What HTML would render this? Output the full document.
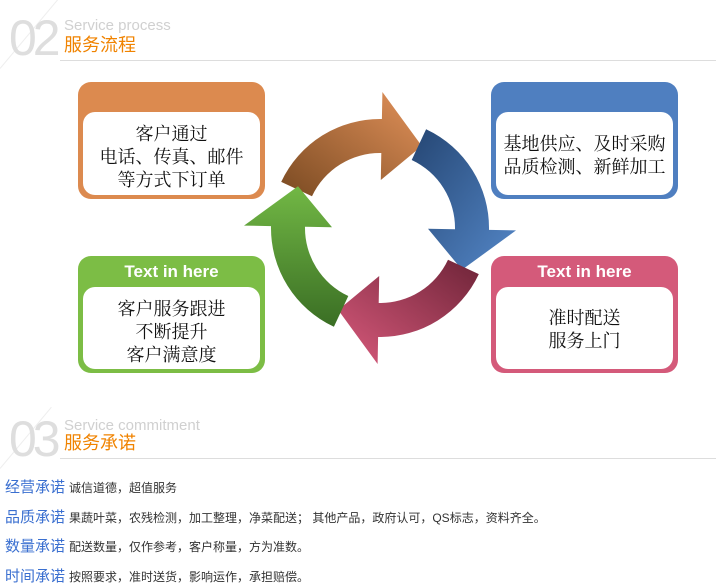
<!DOCTYPE html>
<html><head><meta charset="utf-8"><style>
body{margin:0;width:716px;height:586px;background:#fff;position:relative;overflow:hidden;font-family:"Liberation Sans","Noto Sans CJK SC",sans-serif}
.a{position:absolute}
.num{font-family:"Liberation Sans",sans-serif;font-size:50px;color:#dedede;letter-spacing:-4px;line-height:1}
.en{font-size:15px;color:#d0d0d0;line-height:1}
.cn{font-size:18px;color:#f08300;line-height:1}
.box{position:absolute;border-radius:13px;width:187px;height:117px}
.inner{position:absolute;left:5px;right:5px;bottom:4px;background:#fff;border-radius:12px;font-family:"Liberation Serif","Noto Serif CJK SC",serif;font-size:18px;color:#111;text-align:center;display:flex;flex-direction:column;justify-content:center;line-height:23px;box-sizing:border-box}
.tt{position:absolute;left:0;right:0;top:6px;text-align:center;color:#fff;font-weight:bold;font-size:17px}
.row{position:absolute;left:5px;font-size:12px;color:#333;white-space:nowrap}
.row b{font-weight:normal;color:#3a6fd0;font-size:15px;margin-right:4px}
</style></head><body>
<div class="a" style="left:0;top:68px;width:90px;height:1px;background:#eee;transform:rotate(-50deg);transform-origin:left"></div>
<div class="a num" style="left:9px;top:13px">02</div>
<div class="a en" style="left:64px;top:18px">Service process</div>
<div class="a cn" style="left:64px;top:36px">服务流程</div>
<div class="a" style="left:60px;top:60px;width:656px;height:1px;background:#ddd"></div>

<div class="box" style="left:78px;top:82px;background:#dc8a4f"><div class="inner" style="top:30px;padding-top:8px">客户通过<br>电话、传真、邮件<br>等方式下订单</div></div>
<div class="box" style="left:491px;top:82px;background:#4f7fc0"><div class="inner" style="top:30px;padding-top:4px">基地供应、及时采购<br>品质检测、新鲜加工</div></div>
<div class="box" style="left:78px;top:256px;background:#7cbd45"><div class="tt">Text in here</div><div class="inner" style="top:31px;padding-top:8px">客户服务跟进<br>不断提升<br>客户满意度</div></div>
<div class="box" style="left:491px;top:256px;background:#d45a7a"><div class="tt">Text in here</div><div class="inner" style="top:31px;padding-top:4px">准时配送<br>服务上门</div></div>

<svg class="a" style="left:0;top:0" width="716" height="586" id="s">
<defs>
<linearGradient id="go" x1="0" y1="1" x2="1" y2="0"><stop offset="0" stop-color="#7a4a22"/><stop offset="1" stop-color="#e3925a"/></linearGradient>
<linearGradient id="gb" x1="0" y1="0" x2="1" y2="1"><stop offset="0" stop-color="#254673"/><stop offset="1" stop-color="#5487c8"/></linearGradient>
<linearGradient id="gp" x1="1" y1="0" x2="0" y2="1"><stop offset="0" stop-color="#6e2438"/><stop offset="1" stop-color="#d95a7c"/></linearGradient>
<linearGradient id="gg" x1="0" y1="1" x2="0" y2="0"><stop offset="0" stop-color="#3a6e24"/><stop offset="1" stop-color="#72b845"/></linearGradient>
</defs>
</svg>
<script>
(function(){
var s=document.getElementById('s'),cx=380,cy=228,R=92,w=17,hw=44;
function p(a,r){a=a*Math.PI/180;return (cx+r*Math.cos(a)).toFixed(1)+','+(cy+r*Math.sin(a)).toFixed(1);}
[[205,'url(#go)'],[295,'url(#gb)'],[25,'url(#gp)'],[115,'url(#gg)']].forEach(function(x){
var a=x[0],b=a+66,t=a+92;
var d='M'+p(a,R+w)+' A'+(R+w)+','+(R+w)+' 0 0 1 '+p(b,R+w)+' L'+p(b,R+hw)+' L'+p(t,R)+' L'+p(b,R-hw)+' L'+p(b,R-w)+' A'+(R-w)+','+(R-w)+' 0 0 0 '+p(a,R-w)+' Z';
var e=document.createElementNS('http://www.w3.org/2000/svg','path');e.setAttribute('d',d);e.setAttribute('fill',x[1]);s.appendChild(e);});
})();
</script>

<div class="a" style="left:0;top:468px;width:80px;height:1px;background:#eee;transform:rotate(-50deg);transform-origin:left"></div>
<div class="a num" style="left:9px;top:414px">03</div>
<div class="a en" style="left:64px;top:418px">Service commitment</div>
<div class="a cn" style="left:64px;top:434px">服务承诺</div>
<div class="a" style="left:60px;top:458px;width:656px;height:1px;background:#ddd"></div>

<div class="row" style="top:476px"><b>经营承诺</b>诚信道德，超值服务</div>
<div class="row" style="top:506px"><b>品质承诺</b>果蔬叶菜，农残检测，加工整理，净菜配送； 其他产品，政府认可，QS标志，资料齐全。</div>
<div class="row" style="top:535px"><b>数量承诺</b>配送数量，仅作参考，客户称量，方为准数。</div>
<div class="row" style="top:565px"><b>时间承诺</b>按照要求，准时送货，影响运作，承担赔偿。</div>
</body></html>
